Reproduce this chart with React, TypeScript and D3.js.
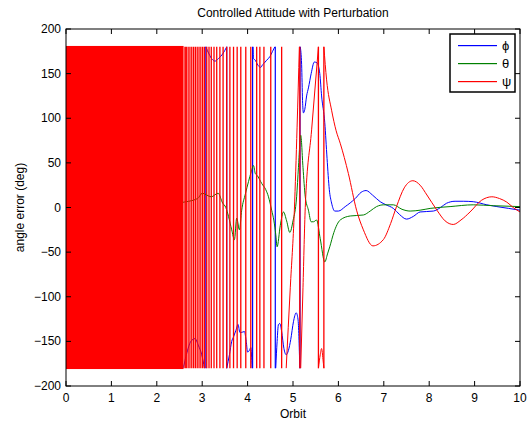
import React from 'react';
import * as d3 from 'd3';

// axis ticks
const xTicks = [0, 1, 2, 3, 4, 5, 6, 7, 8, 9, 10];
const yTicks = [-200, -150, -100, -50, 0, 50, 100, 150, 200];

// psi: dense wrapping band, then individual wraps, then smooth trace
const psiBandEnd = 2.59;
const psiWraps = [
  2.62, 2.65, 2.69, 2.73, 2.77, 2.81, 2.85, 2.89, 2.93, 2.97, 3.01, 3.05, 3.1, 3.15, 3.2, 3.26, 3.32,
  3.39, 3.46, 3.54, 3.61, 3.69, 3.77, 3.85, 3.96, 4.07, 4.2, 4.27, 4.36, 4.51, 4.75, 5.15, 5.56, 5.68,
];
const psiTrace: [number, number][] = [
  [4.85, -180], [4.94, -90], [5.03, -3], [5.09, 90], [5.14, 180], [NaN, NaN],
  [5.17, -180], [5.22, -90], [5.27, 0], [5.41, 87], [5.56, 180], [NaN, NaN],
  [5.56, -180], [5.6, -165], [5.63, -158], [5.66, -170], [5.68, -180], [NaN, NaN],
  [5.68, 180], [5.74, 143], [5.85, 109], [5.95, 86], [6.04, 72], [6.22, 38], [6.4, -3],
  [6.55, -25], [6.76, -43], [6.99, -36], [7.15, -18], [7.28, 1], [7.45, 22], [7.64, 30],
  [7.8, 25], [7.95, 14], [8.17, -3], [8.35, -15], [8.53, -19], [8.7, -14], [8.9, -5],
  [9.15, 8], [9.38, 12], [9.55, 10], [9.71, 6], [9.85, 0], [10, -5],
];

// phi
const phiWraps = [3.08, 3.54, 4.11, 4.61, 5.155];
const phiTrace: [number, number][] = [
  [0, 180], [2.57, 180], [NaN, NaN],
  [0, -180], [2.57, -180], [2.65, -165], [2.75, -150], [2.84, -147], [2.92, -155], [2.99, -165], [3.05, -180], [NaN, NaN],
  [3.08, 180], [3.15, 172], [3.22, 166], [3.28, 164], [3.36, 167], [3.45, 172], [3.54, 180], [NaN, NaN],
  [3.54, -180], [3.6, -165], [3.65, -150], [3.69, -145], [3.74, -138], [3.79, -131], [3.83, -140],
  [3.86, -140], [3.93, -139], [3.97, -150], [4.0, -162], [4.04, -160], [4.07, -157], [4.1, -180], [NaN, NaN],
  [4.12, 180], [4.13, 167], [4.17, 165], [4.21, 161], [4.25, 158], [4.29, 157], [4.33, 160], [4.36, 161.5],
  [4.42, 165], [4.49, 169], [4.55, 175], [4.6, 180], [NaN, NaN],
  [4.62, -180], [4.65, -150], [4.68, -131], [4.71, -130], [4.75, -139], [4.8, -158], [4.85, -165], [4.9, -160],
  [4.95, -148], [5.01, -128], [5.07, -118], [5.11, -125], [5.15, -180], [NaN, NaN],
  [5.16, 180], [5.19, 160], [5.21, 120], [5.23, 106], [5.26, 110], [5.3, 125], [5.34, 134], [5.4, 150],
  [5.47, 163], [5.53, 162], [5.59, 150], [5.63, 125], [5.7, 95], [5.75, 55], [5.8, 20], [5.85, 5],
  [5.92, -4], [6.0, -4], [6.15, 1], [6.37, 10], [6.5, 17], [6.61, 19], [6.75, 14], [6.92, 6.5], [7.05, 3],
  [7.21, -1], [7.35, -8], [7.5, -13], [7.65, -10], [7.8, -5], [8.09, -4], [8.25, 0], [8.38, 4.7], [8.57, 7],
  [8.75, 7], [8.97, 6.5], [9.27, 3], [9.49, 1], [9.75, -1], [10, -3],
];

// theta
const thetaTrace: [number, number][] = [
  [0, 0], [0.5, 3], [1, -3], [1.5, 4], [2, -2], [2.5, 5], [2.9, 10], [3.0, 16], [3.2, 12], [3.35, 16],
  [3.45, 5], [3.52, 0], [3.58, -10], [3.65, -25], [3.71, -36], [3.76, -12], [3.82, -25], [3.87, -3],
  [3.95, 15], [4.02, 29], [4.08, 40], [4.13, 47], [4.17, 38], [4.21, 36], [4.31, 27], [4.4, 20],
  [4.46, 12], [4.53, -3], [4.58, -15], [4.62, -30], [4.65, -44], [4.72, -20], [4.79, -5], [4.86, -15],
  [4.93, -28], [5.0, -15], [5.08, 12], [5.12, 45], [5.17, 81], [5.22, 45], [5.27, 12], [5.34, -3],
  [5.4, -16], [5.45, -16], [5.52, -14], [5.6, -35], [5.7, -61], [5.76, -52], [5.81, -44], [5.9, -28],
  [6.04, -14], [6.26, -9.5], [6.55, -8.4], [6.7, -4], [6.84, 1], [7.0, 3], [7.21, 3], [7.4, -2],
  [7.58, -4], [7.8, -3], [8.02, -1], [8.46, 1], [8.97, 3], [9.41, 2], [10, 1],
];

const legendLabels = ['ϕ', 'θ', 'ψ'];
const legendColors = ['#0000ff', '#008000', '#ff0000'];

const W = 530;
const H = 423;
const left = 66;
const right = 520;
const top = 29;
const bottom = 386;

export default function App() {
  const x = d3.scaleLinear().domain([0, 10]).range([left, right]);
  const y = d3.scaleLinear().domain([-200, 200]).range([bottom, top]);
  const line = d3
    .line<[number, number]>()
    .defined((d) => !isNaN(d[1]))
    .x((d) => x(d[0]))
    .y((d) => y(d[1]))
    .curve(d3.curveMonotoneX);

  const wrapPath = (ts: number[]) =>
    ts.map((t) => `M${x(t)},${y(180)}L${x(t)},${y(-180)}`).join('');

  const font = 'Liberation Sans, Arial, sans-serif';
  const tick = 5;

  return (
    <svg
      width={W}
      height={H}
      style={{ position: 'absolute', left: 0, top: 0, background: '#fff' }}
      fontFamily={font}
    >
      <rect x={0} y={0} width={W} height={H} fill="#fff" />
      <defs>
        <clipPath id="plot">
          <rect x={left} y={top} width={right - left} height={bottom - top} />
        </clipPath>
      </defs>

      <g clipPath="url(#plot)" fill="none" strokeWidth={1}>
        <path d={line(phiTrace) ?? ''} stroke="#0000ff" />
        <path d={wrapPath(phiWraps)} stroke="#0000ff" strokeWidth={1.2} />
        <path d={line(thetaTrace) ?? ''} stroke="#008000" />
        <rect
          x={x(0)}
          y={y(181)}
          width={x(psiBandEnd) - x(0)}
          height={y(-181) - y(181)}
          fill="#ff0000"
          stroke="none"
        />
        <path d={wrapPath(psiWraps)} stroke="#ff0000" strokeWidth={1.3} />
        <path d={line(psiTrace) ?? ''} stroke="#ff0000" />
      </g>

      {/* axes box */}
      <rect x={left} y={top} width={right - left} height={bottom - top} fill="none" stroke="#000" strokeWidth={1} />
      {xTicks.map((t) => (
        <g key={'x' + t}>
          <line x1={x(t)} x2={x(t)} y1={bottom} y2={bottom - tick} stroke="#000" />
          <line x1={x(t)} x2={x(t)} y1={top} y2={top + tick} stroke="#000" />
          <text x={x(t)} y={bottom + 16} fontSize={12} textAnchor="middle">
            {t}
          </text>
        </g>
      ))}
      {yTicks.map((t) => (
        <g key={'y' + t}>
          <line x1={left} x2={left + tick} y1={y(t)} y2={y(t)} stroke="#000" />
          <line x1={right} x2={right - tick} y1={y(t)} y2={y(t)} stroke="#000" />
          <text x={left - 5} y={y(t) + 4} fontSize={12} textAnchor="end">
            {t < 0 ? '\u2212' + Math.abs(t) : t}
          </text>
        </g>
      ))}

      <text x={(left + right) / 2} y={17} fontSize={12} textAnchor="middle">
        Controlled Attitude with Perturbation
      </text>
      <text x={(left + right) / 2} y={418} fontSize={12} textAnchor="middle">
        Orbit
      </text>
      <text
        transform={`translate(24,${(top + bottom) / 2}) rotate(-90)`}
        fontSize={12}
        textAnchor="middle"
      >
        angle error (deg)
      </text>

      {/* legend */}
      <g>
        <rect x={450} y={34} width={65} height={58} fill="#fff" stroke="#000" strokeWidth={1.5} />
        {legendLabels.map((label, i) => (
          <g key={label}>
            <rect x={458} y={45 + i * 18} width={39} height={1.2} fill={legendColors[i]} />
            <text x={502} y={50 + i * 18} fontSize={13}>
              {label}
            </text>
          </g>
        ))}
      </g>
    </svg>
  );
}
